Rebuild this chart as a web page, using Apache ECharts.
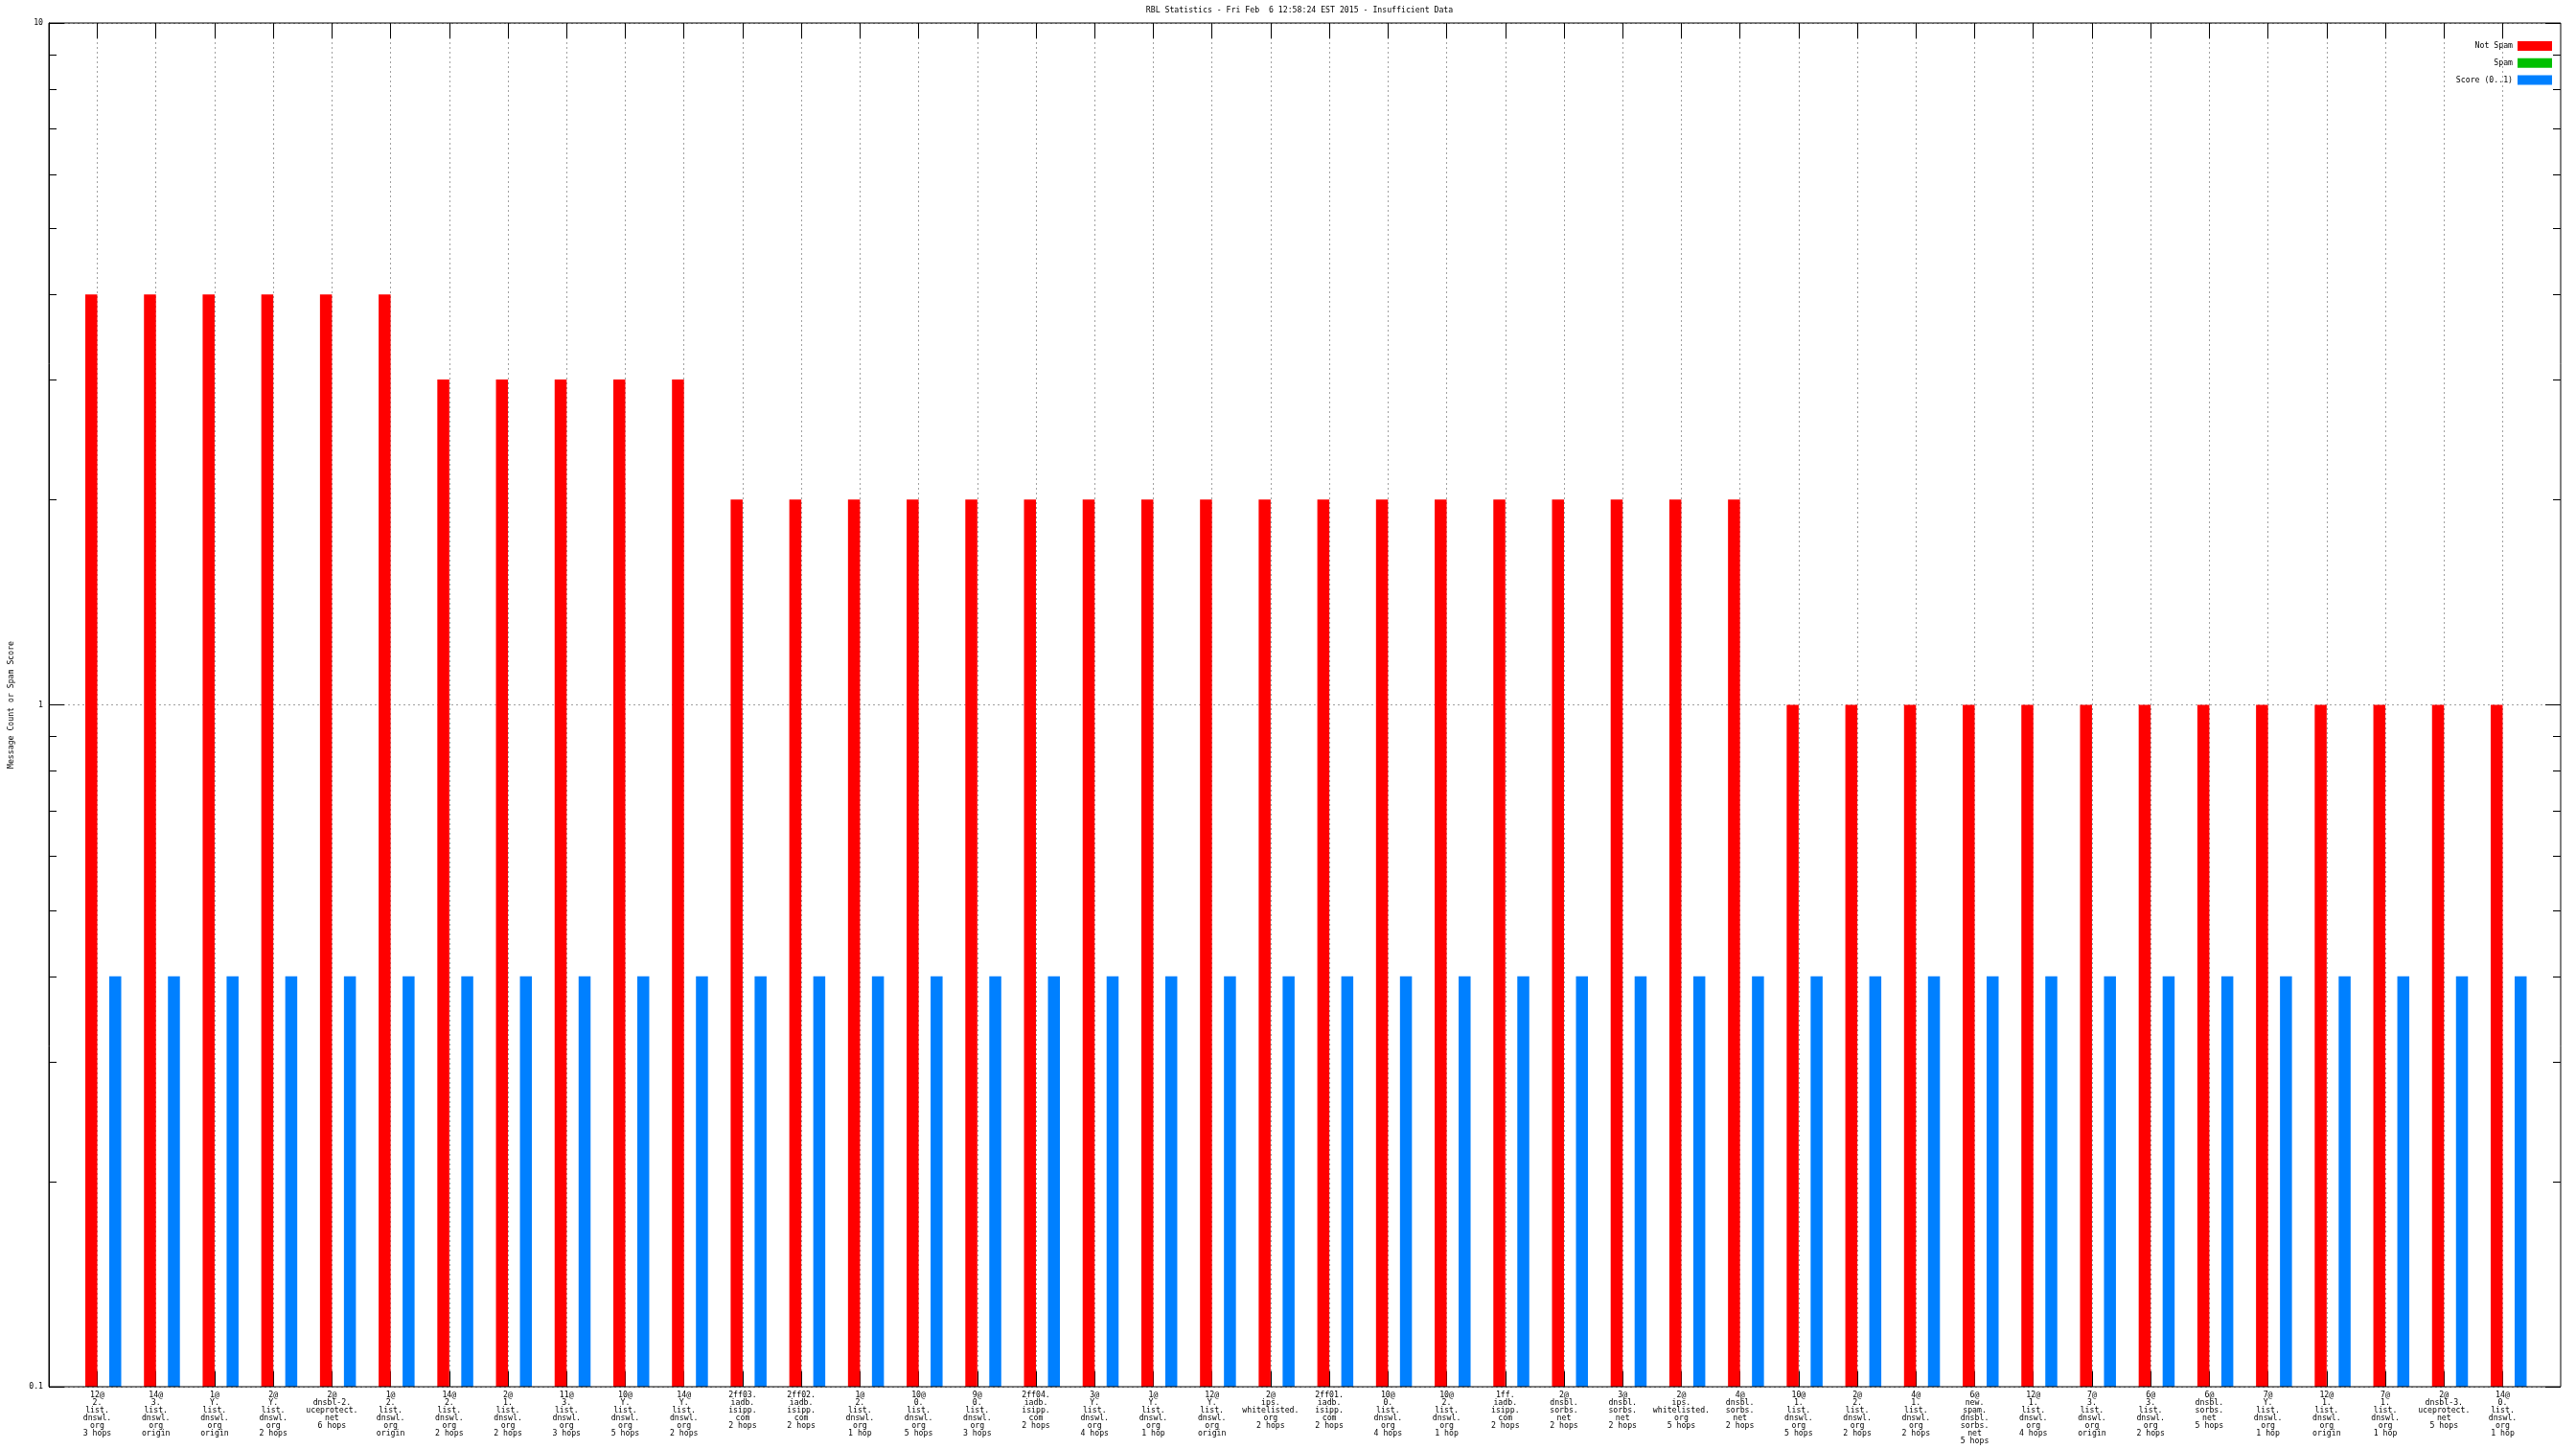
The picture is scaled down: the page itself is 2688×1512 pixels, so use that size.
<!DOCTYPE html>
<html>
<head>
<meta charset="utf-8">
<script src="https://cdn.jsdelivr.net/npm/echarts@6/dist/echarts.min.js"></script>
<style>html,body{margin:0;padding:0;background:#fff;}#c{width:2688px;height:1512px;}</style>
</head>
<body>
<div id="c"></div>
<script>
const categories = [
  "12@\n2.\nlist.\ndnswl.\norg\n3 hops",
  "14@\n3.\nlist.\ndnswl.\norg\norigin",
  "1@\nY.\nlist.\ndnswl.\norg\norigin",
  "2@\nY.\nlist.\ndnswl.\norg\n2 hops",
  "2@\ndnsbl-2.\nuceprotect.\nnet\n6 hops",
  "1@\n2.\nlist.\ndnswl.\norg\norigin",
  "14@\n2.\nlist.\ndnswl.\norg\n2 hops",
  "2@\n1.\nlist.\ndnswl.\norg\n2 hops",
  "11@\n3.\nlist.\ndnswl.\norg\n3 hops",
  "10@\nY.\nlist.\ndnswl.\norg\n5 hops",
  "14@\nY.\nlist.\ndnswl.\norg\n2 hops",
  "2ff03.\niadb.\nisipp.\ncom\n2 hops",
  "2ff02.\niadb.\nisipp.\ncom\n2 hops",
  "1@\n2.\nlist.\ndnswl.\norg\n1 hop",
  "10@\n0.\nlist.\ndnswl.\norg\n5 hops",
  "9@\n0.\nlist.\ndnswl.\norg\n3 hops",
  "2ff04.\niadb.\nisipp.\ncom\n2 hops",
  "3@\nY.\nlist.\ndnswl.\norg\n4 hops",
  "1@\nY.\nlist.\ndnswl.\norg\n1 hop",
  "12@\nY.\nlist.\ndnswl.\norg\norigin",
  "2@\nips.\nwhitelisted.\norg\n2 hops",
  "2ff01.\niadb.\nisipp.\ncom\n2 hops",
  "10@\n0.\nlist.\ndnswl.\norg\n4 hops",
  "10@\n2.\nlist.\ndnswl.\norg\n1 hop",
  "1ff.\niadb.\nisipp.\ncom\n2 hops",
  "2@\ndnsbl.\nsorbs.\nnet\n2 hops",
  "3@\ndnsbl.\nsorbs.\nnet\n2 hops",
  "2@\nips.\nwhitelisted.\norg\n5 hops",
  "4@\ndnsbl.\nsorbs.\nnet\n2 hops",
  "10@\n1.\nlist.\ndnswl.\norg\n5 hops",
  "2@\n2.\nlist.\ndnswl.\norg\n2 hops",
  "4@\n1.\nlist.\ndnswl.\norg\n2 hops",
  "6@\nnew.\nspam.\ndnsbl.\nsorbs.\nnet\n5 hops",
  "12@\n1.\nlist.\ndnswl.\norg\n4 hops",
  "7@\n3.\nlist.\ndnswl.\norg\norigin",
  "6@\n3.\nlist.\ndnswl.\norg\n2 hops",
  "6@\ndnsbl.\nsorbs.\nnet\n5 hops",
  "7@\nY.\nlist.\ndnswl.\norg\n1 hop",
  "12@\n1.\nlist.\ndnswl.\norg\norigin",
  "7@\n1.\nlist.\ndnswl.\norg\n1 hop",
  "2@\ndnsbl-3.\nuceprotect.\nnet\n5 hops",
  "14@\n0.\nlist.\ndnswl.\norg\n1 hop"
];
const notSpam = [4,4,4,4,4,4,3,3,3,3,3,2,2,2,2,2,2,2,2,2,2,2,2,2,2,2,2,2,2,1,1,1,1,1,1,1,1,1,1,1,1,1];
const spam = [0,0,0,0,0,0,0,0,0,0,0,0,0,0,0,0,0,0,0,0,0,0,0,0,0,0,0,0,0,0,0,0,0,0,0,0,0,0,0,0,0,0];
const score = [0.4,0.4,0.4,0.4,0.4,0.4,0.4,0.4,0.4,0.4,0.4,0.4,0.4,0.4,0.4,0.4,0.4,0.4,0.4,0.4,0.4,0.4,0.4,0.4,0.4,0.4,0.4,0.4,0.4,0.4,0.4,0.4,0.4,0.4,0.4,0.4,0.4,0.4,0.4,0.4,0.4,0.4];
const yTickLabels = ["0.1","1","10"];
const minorTicks = [0.2,0.3,0.4,0.5,0.6,0.7,0.8,0.9,2,3,4,5,6,7,8,9];

const FONT = 'DejaVu Sans Mono';
const FS = 8.2;
const chart = echarts.init(document.getElementById('c'), null, {renderer: 'canvas'});
const nz = a => a.map(v => (v > 0 ? v : null));

const option = {
  animation: false,
  backgroundColor: '#ffffff',
  title: {
    text: 'RBL Statistics - Fri Feb  6 12:58:24 EST 2015 - Insufficient Data',
    left: 1356, top: 7, textAlign: 'center', padding: 0,
    textStyle: {fontFamily: FONT, fontSize: FS, fontWeight: 'normal', color: '#000'}
  },
  legend: {
    data: ['Not Spam', 'Spam', 'Score (0..1)'],
    orient: 'vertical', align: 'right', right: 25, top: 43, padding: 0,
    itemWidth: 36, itemHeight: 10, itemGap: 7.7, icon: 'rect',
    textStyle: {fontFamily: FONT, fontSize: FS, color: '#000', padding: [0, 0, 0, 0]},
    selectedMode: false
  },
  grid: [
    {left: 40, right: 16, top: 24, bottom: 65, show: true, borderColor: '#000', borderWidth: 1, backgroundColor: 'transparent', z: 5},
    {left: 70.9, right: 45.9, top: 24, bottom: 65}
  ],
  xAxis: [
    {gridIndex: 0, type: 'value', min: 0, max: 1, show: false},
    {
      gridIndex: 1, type: 'category', data: categories, position: 'bottom',
      axisLine: {show: false},
      axisTick: {show: true, inside: true, length: 16, alignWithLabel: true, interval: 0, lineStyle: {color: '#000', width: 1}},
      axisLabel: {interval: 0, margin: 5, fontFamily: FONT, fontSize: FS, lineHeight: 8, color: '#000'},
      splitLine: {show: true, alignWithLabel: true, interval: 0, lineStyle: {color: '#a0a0a0', width: 1, type: [2, 3]}}
    },
    {
      gridIndex: 1, type: 'category', data: categories, position: 'top',
      axisLine: {show: false},
      axisTick: {show: true, inside: true, length: 16, alignWithLabel: true, interval: 0, lineStyle: {color: '#000', width: 1}},
      axisLabel: {show: false},
      splitLine: {show: false}
    }
  ],
  yAxis: [
    {
      gridIndex: 0, type: 'log', logBase: 10, min: 0.1, max: 10, position: 'left',
      name: 'Message Count or Spam Score', nameLocation: 'middle', nameGap: 35,
      nameTextStyle: {fontFamily: FONT, fontSize: FS, color: '#000'},
      axisLine: {show: true, lineStyle: {color: '#000', width: 1}},
      axisTick: {show: true, inside: true, length: 16, lineStyle: {color: '#000', width: 1}},
      axisLabel: {margin: 6, fontFamily: FONT, fontSize: FS, color: '#000',
        formatter: v => { const i = Math.round(Math.log10(v)) + 1; return yTickLabels[i] !== undefined ? yTickLabels[i] : ''; }},
      splitLine: {show: true, lineStyle: {color: '#a0a0a0', width: 1, type: [2, 3]}},
      minorTick: {show: false}
    },
    {
      gridIndex: 0, type: 'log', logBase: 10, min: 0.1, max: 10, position: 'right',
      axisLine: {show: false},
      axisTick: {show: true, inside: true, length: 16, lineStyle: {color: '#000', width: 1}},
      axisLabel: {show: false},
      splitLine: {show: false}
    },
    {
      gridIndex: 1, type: 'log', logBase: 10, min: 0.1, max: 10, startValue: 0.1, show: false
    }
  ],
  series: [
    {name: '_pad', type: 'bar', xAxisIndex: 1, yAxisIndex: 2, data: categories.map(() => null), barWidth: 12.5, barGap: 0, silent: true},
    {name: 'Not Spam', type: 'bar', xAxisIndex: 1, yAxisIndex: 2, data: nz(notSpam), barWidth: 12.5, barGap: 0, itemStyle: {color: '#ff0000'}},
    {name: 'Spam', type: 'bar', xAxisIndex: 1, yAxisIndex: 2, data: nz(spam), barWidth: 12.5, barGap: 0, itemStyle: {color: '#00c000'}},
    {name: 'Score (0..1)', type: 'bar', xAxisIndex: 1, yAxisIndex: 2, data: nz(score), barWidth: 12.5, barGap: 0, itemStyle: {color: '#0080ff'}},
    {
      name: '_minor', type: 'custom', xAxisIndex: 0, yAxisIndex: 0, silent: true, clip: false, z: 6,
      data: minorTicks.map(v => [0, v]),
      renderItem: (params, api) => {
        const v = api.value(1);
        const pl = api.coord([0, v]);
        const pr = api.coord([1, v]);
        const y = Math.round(pl[1]) + 0.5;
        return {type: 'group', children: [
          {type: 'line', shape: {x1: pl[0], y1: y, x2: pl[0] + 8, y2: y}, style: {stroke: '#000', lineWidth: 1}},
          {type: 'line', shape: {x1: pr[0], y1: y, x2: pr[0] - 8, y2: y}, style: {stroke: '#000', lineWidth: 1}}
        ]};
      }
    }
  ]
};
chart.setOption(option);
</script>
</body>
</html>
